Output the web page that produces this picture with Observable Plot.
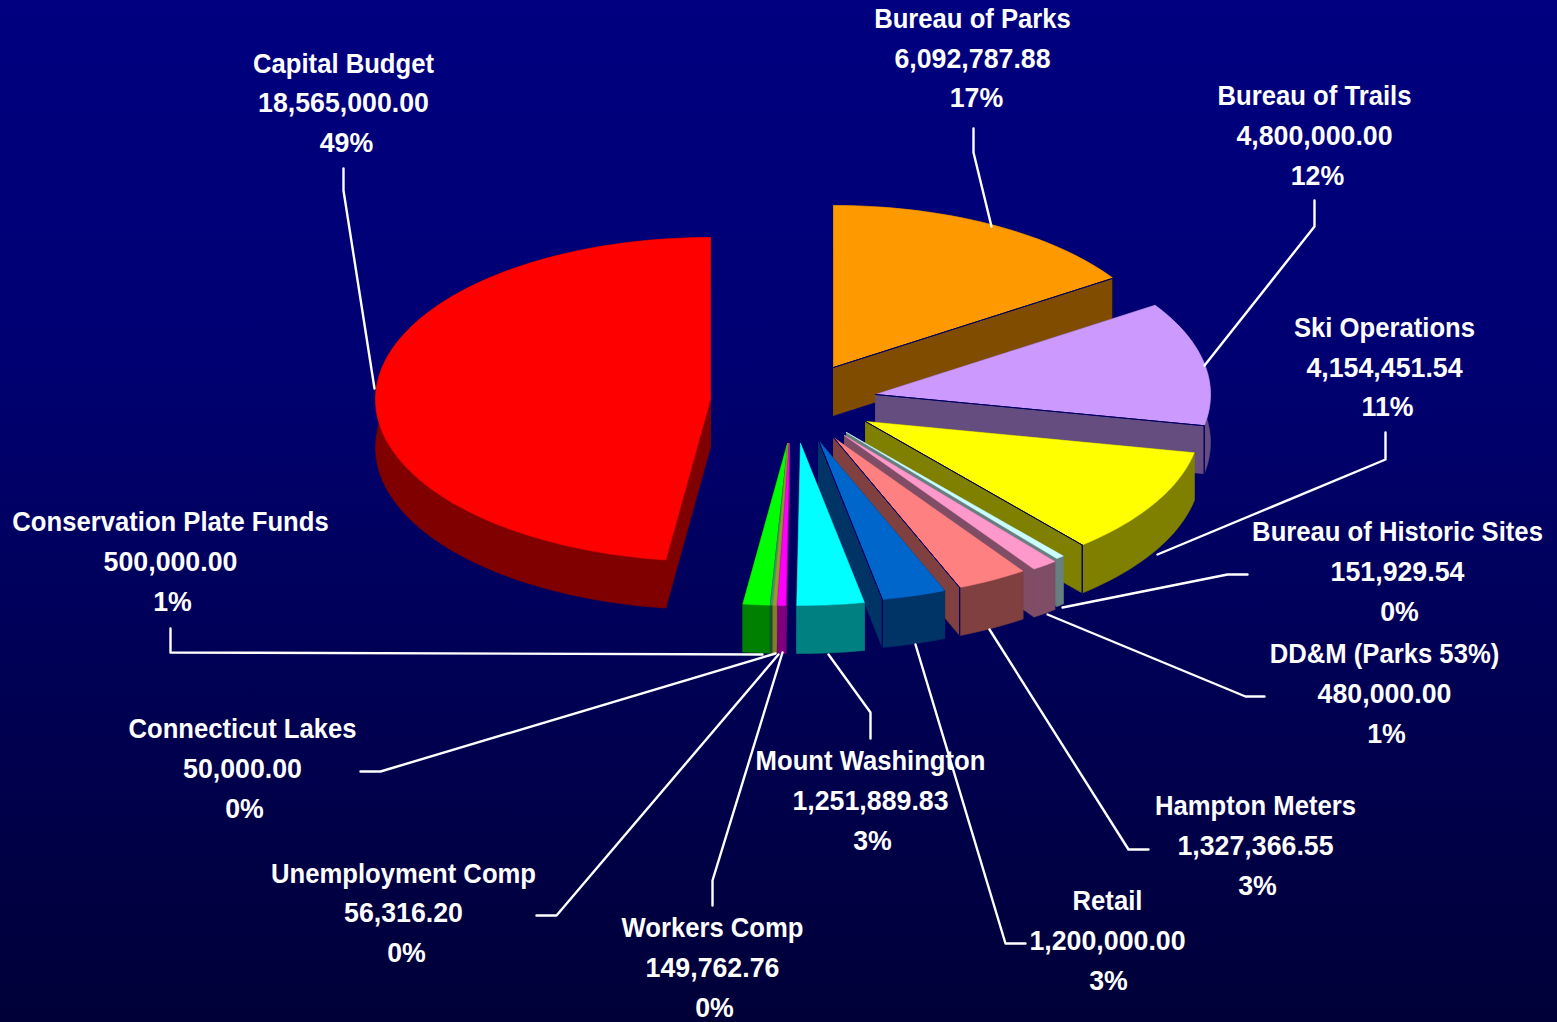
<!DOCTYPE html>
<html>
<head>
<meta charset="utf-8">
<style>
html,body{margin:0;padding:0;background:#000060;}
svg{display:block;}
</style>
<script src="https://cdn.jsdelivr.net/npm/d3@7"></script>
<script src="https://cdn.jsdelivr.net/npm/@observablehq/plot@0.6"></script>
</head>
<body>
<div id="chart"></div>
<script>
// ---- chart values, clockwise from twelve o'clock
const names = ["Bureau of Parks","Bureau of Trails","Ski Operations","Bureau of Historic Sites","DD&M (Parks 53%)","Hampton Meters","Retail","Mount Washington","Workers Comp","Unemployment Comp","Connecticut Lakes","Conservation Plate Funds","Capital Budget"];
const amounts = [6092787.88,4800000,4154451.54,151929.54,480000,1327366.55,1200000,1251889.83,149762.76,56316.20,50000,500000,18565000];
const percents = ["17%","12%","11%","0%","1%","3%","3%","3%","0%","0%","0%","1%","49%"];

// ---- colours
const topColors  = ["#ff9900","#cc99ff","#ffff00","#ccffff","#ff99cc","#ff8080","#0066cc","#00ffff","#ff00ff","#999933","#339966","#00ff00","#ff0000"];
const sideColors = ["#804d00","#664d80","#808000","#668080","#804d66","#804040","#003366","#008080","#800080","#808020","#1a4d33","#008000","#800000"];

// ---- exploded-pie layout (pixel scale of the picture)
const pieRx = 335, pieRy = 162, pieDepth = 48;
const apexX = [833,875,865,846,844,833,818,800,789,787.5,787.5,787,710];
const apexY = [367,394,421,432,435,437,440,443,443,443,443,443,399];
const seams = [1,1,1,0,0,1,1,0,0,0,0,0,0];
const paintOrder = [12,0,1,2,3,4,5,6,11,10,9,8,7];

const nameX = [972,1314,1384,1397,1384,1255,1107,870,712,403,242,170,343];
const nameY = [19,96,328,532,654,806,901,761,928,874,729,522,64];
const valueY = [59,136,368,572,694,846,941,801,968,913,769,562,103];
const pctX = [976,1317,1387,1399,1386,1257,1108,872,714,406,244,172,346];
const pctY = [98,176,407,612,734,886,981,841,1008,953,809,602,143];

const leaderX = [[973,973,991],[1314,1314,1204],[1385,1385,1157],[1247,1227,1062],[1264,1245,1047],[1148,1128,989],[1025,1005,915],[870,870,828],[712,712,782],[536,556,778],[360,380,775],[170,170,762],[343,343,374]];
const leaderY = [[128,152,226],[200,226,365],[432,459,554],[574,574,607],[696,696,614],[849,849,629],[943,943,644],[738,712,654],[905,880,652],[915,915,654],[771,771,653],[628,652,654],[168,190,388]];

// ---- geometry derived from the values
const arcs = d3.pie().sort(null).startAngle(0).endAngle(2 * Math.PI)(amounts);
const polys = [];
let pid = 0;
function poly(pts, color, sw) {
  const id = pid++;
  pts.concat([pts[0]]).forEach(p => polys.push({id, x: p[0], y: p[1], color, sw}));
}
const down = p => [p[0], p[1] + pieDepth];
paintOrder.forEach(i => {
  const a = arcs[i], cx = apexX[i], cy = apexY[i], apex = [cx, cy];
  const n = Math.max(2, Math.ceil((a.endAngle - a.startAngle) / 0.03));
  const rim = [];
  for (let k = 0; k <= n; k++) {
    const t = a.startAngle + (a.endAngle - a.startAngle) * k / n;
    rim.push([cx + pieRx * Math.sin(t), cy - pieRy * Math.cos(t)]);
  }
  const first = rim[0], last = rim[rim.length - 1];
  poly([apex, first, down(first), down(apex)], sideColors[i], 0.6);
  poly([apex, last, down(last), down(apex)], sideColors[i], 0.6);
  poly(rim.concat(rim.map(down).reverse()), sideColors[i], 0.6);
  poly([apex].concat(rim), topColors[i], 0.5);
  if (seams[i]) {
    poly([apex, last], "#000060", 1);
    poly([last, down(last)], "#000060", 1);
  }
});

const leaders = names.flatMap((name, i) => leaderX[i].map((x, k) => ({name, x, y: leaderY[i][k]})));
const labelLines = names.flatMap((name, i) => [
  {text: name, x: nameX[i], y: nameY[i]},
  {text: d3.format(",.2f")(amounts[i]), x: nameX[i], y: valueY[i]},
  {text: percents[i], x: pctX[i], y: pctY[i]}
]);

const chart = Plot.plot({
  width: 1557, height: 1022, margin: 0,
  x: {domain: [0, 1557], range: [0, 1557], axis: null},
  y: {domain: [0, 1022], range: [0, 1022], axis: null},
  color: {type: "identity"},
  style: {background: "linear-gradient(to bottom,#000080 0%,#000072 35%,#000058 62%,#000038 100%)"},
  marks: [
    Plot.line(polys, {x: "x", y: "y", z: "id", fill: d => d.color, stroke: d => d.color, strokeWidth: d => d.sw, curve: "linear"}),
    Plot.line(leaders, {x: "x", y: "y", z: "name", stroke: "#ffffff", strokeWidth: 2.4, curve: "linear"}),
    Plot.text(labelLines, {x: "x", y: "y", text: "text", fill: "#ffffff", fontSize: 27, fontWeight: "bold", fontFamily: "'Liberation Sans', Arial, sans-serif", textAnchor: "middle", lineAnchor: "middle"})
  ]
});
document.getElementById("chart").appendChild(chart);
// the source type is a narrow bold face: condense the name lines horizontally
chart.querySelectorAll("text").forEach(t => {
  const k = names.includes(t.textContent) ? 0.95 : 0.99;
  t.setAttribute("textLength", (t.getComputedTextLength() * k).toFixed(1));
  t.setAttribute("lengthAdjust", "spacingAndGlyphs");
});
</script>
</body>
</html>
